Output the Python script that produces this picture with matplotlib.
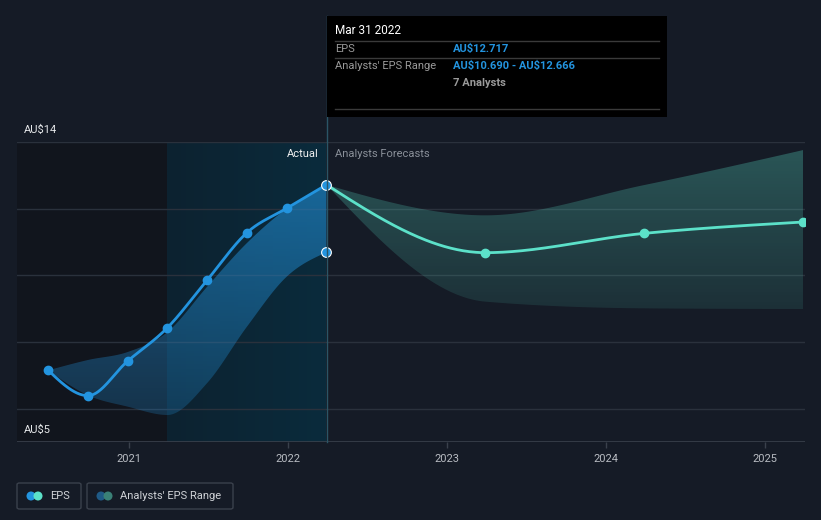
import numpy as np
import matplotlib
matplotlib.use("Agg")
import matplotlib.pyplot as plt
from matplotlib.patches import Rectangle, FancyBboxPatch, Circle, Polygon
from matplotlib.lines import Line2D

plt.rcParams['font.family'] = ['Roboto', 'DejaVu Sans']
plt.rcParams['text.parse_math'] = False

# ---- data (decimal years, AU$) ----
past_t = [2020.49, 2020.74, 2020.99, 2021.24, 2021.49, 2021.74, 2021.99, 2022.24]
past_eps = [7.15, 6.39, 7.43, 8.43, 9.86, 11.28, 12.01, 12.717]
past_low = [7.15, 6.40, 6.06, 5.81, 6.77, 8.46, 9.96, 10.69]
past_high = [7.15, 7.46, 7.70, 8.30, 9.66, 10.97, 12.00, 12.666]

fc_t = [2022.24, 2023.24, 2024.24, 2025.24]
fc_eps = [12.717, 10.68, 11.26, 11.60]
fc_low = [12.717, 9.21, 9.01, 8.99]
fc_high = [12.717, 11.80, 12.71, 13.76]

year_ticks = [2021, 2022, 2023, 2024, 2025]
y_grid = [6, 8, 10, 12, 14]

BG = '#151b26'
BLUE = '#2394df'
TEAL = '#5ce1c9'
W, H = 821, 520


def fx(x):
    return x / W


def fy(y):
    return 1 - y / H


def monotone(xs, ys, n=300):
    # monotone cubic (like d3.curveMonotoneX)
    xs = np.asarray(xs, float)
    ys = np.asarray(ys, float)
    h = np.diff(xs)
    s = np.diff(ys) / h
    m = np.zeros(len(xs))
    for k in range(1, len(xs) - 1):
        p = (s[k - 1] * h[k] + s[k] * h[k - 1]) / (h[k - 1] + h[k])
        m[k] = (np.sign(s[k - 1]) + np.sign(s[k])) * min(abs(s[k - 1]), abs(s[k]), 0.5 * abs(p))
    m[0] = (3 * s[0] - m[1]) / 2 if len(xs) > 2 else s[0]
    m[-1] = (3 * s[-1] - m[-2]) / 2 if len(xs) > 2 else s[-1]
    out_x, out_y = [], []
    for k in range(len(xs) - 1):
        t = np.linspace(0, 1, n // (len(xs) - 1) + 2)
        t2, t3 = t * t, t * t * t
        h00 = 2 * t3 - 3 * t2 + 1
        h10 = t3 - 2 * t2 + t
        h01 = -2 * t3 + 3 * t2
        h11 = t3 - t2
        yy = h00 * ys[k] + h10 * h[k] * m[k] + h01 * ys[k + 1] + h11 * h[k] * m[k + 1]
        out_x.append(xs[k] + t * h[k])
        out_y.append(yy)
    return np.concatenate(out_x), np.concatenate(out_y)


fig = plt.figure(figsize=(W / 100, H / 100), dpi=100, facecolor=BG)
ax = fig.add_axes([fx(17), fy(442), (805 - 17) / W, 300 / H])
ax.set_facecolor(BG)
x0 = 2021 - (129.3 - 17) / 159
x1 = 2021 + (805 - 129.3) / 159
ax.set_xlim(x0, x1)
ax.set_ylim(5, 14)
for sp in ax.spines.values():
    sp.set_visible(False)

# background regions
ax.axvspan(x0, past_t[3], color='#11151d', zorder=0, lw=0)
grad = np.zeros((2, 64, 4))
c0 = np.array([0x0d, 0x22, 0x30]) / 255
c1 = np.array([0x0a, 0x2b, 0x3c]) / 255
for i in range(64):
    grad[:, i, :3] = c0 + (c1 - c0) * i / 63
grad[:, :, 3] = 1
ax.imshow(grad, extent=[past_t[3], past_t[-1], 5, 14], aspect='auto', origin='lower', zorder=0.5)

for g in y_grid:
    ax.axhline(g, color='#2a313c', lw=1, zorder=1)
ax.axhline(5, color='#3a414c', lw=1.2, zorder=1)


def gradient_band(t, lo, hi, rgb, a_top, a_bot, ytop, ybot, z):
    bx, bl = monotone(t, lo)
    _, bh = monotone(t, hi)
    verts = np.column_stack([np.concatenate([bx, bx[::-1]]), np.concatenate([bh, bl[::-1]])])
    poly = Polygon(verts, closed=True, facecolor='none', edgecolor='none')
    ax.add_patch(poly)
    img = np.zeros((128, 2, 4))
    img[:, :, :3] = np.array(rgb)
    img[:, :, 3] = np.linspace(a_bot, a_top, 128)[:, None]
    im = ax.imshow(img, extent=[t[0], t[-1], ybot, ytop], aspect='auto', origin='lower', zorder=z)
    im.set_clip_path(poly)


gradient_band(past_t, past_low, past_high, (0.14, 0.58, 0.87), 0.58, 0.24, 12.8, 5.8, 2)
gradient_band(fc_t, fc_low, fc_high, (0.36, 0.88, 0.79), 0.30, 0.11, 13.8, 9.0, 2)

# lines
lx, ly = monotone(past_t, past_eps)
ax.plot(lx, ly, color=BLUE, lw=2, zorder=4, solid_capstyle='round')
ax.plot(past_t[:-1], past_eps[:-1], 'o', color=BLUE, ms=6, zorder=5)
fx_, fy_ = monotone(fc_t, fc_eps)
ax.plot(fx_, fy_, color=TEAL, lw=2, zorder=4)
ax.plot(fc_t[1:], fc_eps[1:], 'o', color=TEAL, ms=6, zorder=5, clip_on=True)
ax.plot([past_t[-1]], [past_eps[-1]], 'o', color=BLUE, mec='white', mew=0.8, ms=7, zorder=6)
ax.plot([past_t[-1]], [past_low[-1]], 'o', color=BLUE, mec='white', mew=0.8, ms=7, zorder=6)

# ticks
ax.set_yticks([])
ax.set_xticks(year_ticks)
ax.set_xticklabels([str(y) for y in year_ticks], color='#b8bcc2', fontsize=8)
ax.tick_params(axis='x', length=4, width=1, color='#3a414c', pad=5)

# vertical marker line and tooltip (figure coordinates)
fig.add_artist(Line2D([fx(327), fx(327)], [fy(16), fy(442)], color='#2a5566', lw=1, zorder=3))
fig.add_artist(Rectangle((fx(327), fy(117)), (667 - 327) / W, 101 / H, facecolor='black',
                         edgecolor='none', zorder=10))
for yy in [41, 58, 109]:
    fig.add_artist(Line2D([fx(335), fx(659)], [fy(yy), fy(yy)], color='#3a3a3a', lw=1, zorder=11))
fig.text(fx(335), fy(31), 'Mar 31 2022', color='white', fontsize=8.5, va='center', zorder=12)
fig.text(fx(335), fy(49), 'EPS', color='#9a9a9a', fontsize=8, va='center', zorder=12)
fig.text(fx(453), fy(49), 'AU$12.717', color=BLUE, fontsize=8, fontweight='bold', va='center', zorder=12)
fig.text(fx(335), fy(66), "Analysts' EPS Range", color='#9a9a9a', fontsize=8, va='center', zorder=12)
fig.text(fx(453), fy(66), 'AU$10.690 - AU$12.666', color=BLUE, fontsize=8, fontweight='bold',
         va='center', zorder=12)
fig.text(fx(453), fy(83), '7 Analysts', color='#9a9a9a', fontsize=8, fontweight='bold', va='center', zorder=12)

# labels
fig.text(fx(24), fy(130), 'AU$14', color='#e6e8ea', fontsize=8, va='center')
fig.text(fx(24), fy(430), 'AU$5', color='#e6e8ea', fontsize=8, va='center')
fig.text(fx(319), fy(154), 'Actual', color='#f0f0f0', fontsize=8, va='center', ha='right')
fig.text(fx(335), fy(154), 'Analysts Forecasts', color='#8a9099', fontsize=8, va='center')

# legend
for (bx0, bx1) in [(17, 81), (87, 233)]:
    fig.add_artist(FancyBboxPatch((fx(bx0), fy(509)), (bx1 - bx0) / W, 26 / H,
                                  boxstyle='round,pad=0,rounding_size=0.003',
                                  facecolor='none', edgecolor='#3a414c', lw=1))

ax_leg = fig.add_axes([0, 0, 1, 1], facecolor='none')
ax_leg.set_xlim(0, W)
ax_leg.set_ylim(H, 0)
ax_leg.axis('off')
ax_leg.add_patch(Circle((31, 496), 4.5, facecolor=BLUE, edgecolor='none'))
ax_leg.add_patch(Circle((38, 496), 4.5, facecolor=TEAL, edgecolor='none'))
ax_leg.add_patch(Circle((101, 496), 4.5, facecolor='#1f5a86', edgecolor='none'))
ax_leg.add_patch(Circle((108, 496), 4.5, facecolor='#3a8177', edgecolor='none'))
ax_leg.set_aspect('equal')
fig.text(fx(50), fy(496), 'EPS', color='#cfd2d6', fontsize=8, va='center')
fig.text(fx(120), fy(496), "Analysts' EPS Range", color='#cfd2d6', fontsize=8, va='center')

fig.savefig('out.png', dpi=100, facecolor=BG)
